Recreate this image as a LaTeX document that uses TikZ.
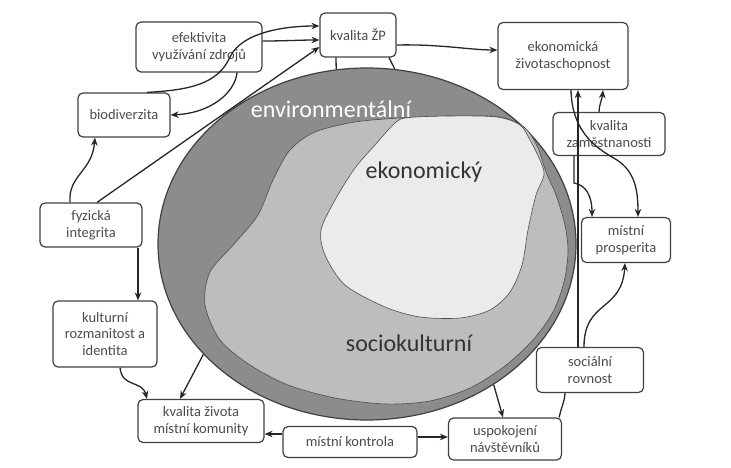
\documentclass[tikz,border=0pt]{standalone}
\usepackage{fontspec}
\setmainfont{Carlito}
\usetikzlibrary{arrows.meta,shapes.geometric}
\definecolor{tmava}{gray}{0.55}
\definecolor{stredni}{gray}{0.74}
\definecolor{svetla}{gray}{0.92}
\tikzset{
  box/.style={draw=black!75,line width=1.2pt,rounded corners=5pt,fill=white,align=center,
    text=black!70,font=\fontsize{14.5}{16.5}\selectfont,inner sep=1pt},
  sip/.style={->,draw=black!85,line width=1.3pt},
  cara/.style={draw=black!85,line width=1.3pt},
  nadpis/.style={font=\fontsize{24}{26}\selectfont},
}
\begin{document}
\begin{tikzpicture}[x=1pt,y=-1pt,>={Stealth[length=8pt,width=6.5pt]}]
\useasboundingbox (0,0) rectangle (731,468);

\node[ellipse,draw=black!75,line width=1.2pt,fill=tmava,inner sep=0pt,
  minimum width=418pt,minimum height=352pt] (env) at (367,244) {};
\filldraw[fill=stredni,draw=black!70,line width=0.6pt] plot[smooth cycle] coordinates {
  (400,118) (450,116) (500,117) (525,128) (538,148) (546,172) (556,195) (565,225)
  (568,252) (564,282) (553,312) (533,340) (505,366) (470,388) (430,401) (385,404)
  (335,398) (288,385) (250,365) (220,340) (205,305) (210,272) (235,243) (258,215)
  (273,180) (290,150) (315,132) (355,122)};
\filldraw[fill=svetla,draw=black!70,line width=0.6pt] plot[smooth cycle] coordinates {
  (405,118) (450,116) (497,117) (520,125) (530,140) (540,160) (544,175) (536,195)
  (528,230) (522,265) (510,292) (490,310) (460,318) (420,317) (385,307) (345,285)
  (325,255) (321,230) (335,200) (355,168) (375,145) (392,126)};
\node[nadpis,text=white] at (331,109) {environmentální};
\node[nadpis,text=black!80] at (424,172) {ekonomický};
\node[nadpis,text=black!80] at (409,343) {sociokulturní};

\node[box,minimum width=126pt,minimum height=50pt] (eff) at (199,47) {efektivita\\využívání zdrojů};
\node[box,minimum width=76pt,minimum height=44pt] (zp) at (358,35) {kvalita ŽP};
\node[box,minimum width=130pt,minimum height=67pt] (ekon) at (563,56) {ekonomická\\životaschopnost};
\node[box,minimum width=92pt,minimum height=44pt] (bio) at (124,115) {biodiverzita};
\node[box,minimum width=112pt,minimum height=43pt] (zam) at (609,134) {kvalita\\zaměstnanosti};
\node[box,minimum width=102pt,minimum height=44pt] (fyz) at (91,225) {fyzická\\integrita};
\node[box,minimum width=89pt,minimum height=45pt] (prosp) at (626,240) {místní\\prosperita};
\node[box,minimum width=104pt,minimum height=66pt] (kult) at (105,334) {kulturní\\rozmanitost a\\identita};
\node[box,minimum width=107pt,minimum height=45pt] (rovn) at (590,370) {sociální\\rovnost};
\node[box,minimum width=126pt,minimum height=43pt] (zivot) at (201,421) {kvalita života\\místní komunity};
\node[box,minimum width=134pt,minimum height=31pt] (kontr) at (350,442) {místní kontrola};
\node[box,minimum width=113pt,minimum height=42pt] (navst) at (505,439) {uspokojení\\návštěvníků};

\draw[sip] ([yshift=6pt]eff.east) .. controls (285,41) and (300,40) .. ([yshift=-5pt]zp.west);
\draw[sip] ([xshift=23pt]bio.north) .. controls (190,90) and (218,84) .. (230,57)
  .. controls (242,32) and (285,26) .. ([yshift=9pt]zp.west);
\draw[sip] ([xshift=38pt]eff.south) .. controls (235,92) and (212,113) .. (bio.east);
\draw[sip] ([xshift=6pt]fyz.north) -- ([yshift=-12pt]zp.west);
\draw[sip] ([xshift=-21pt]fyz.north) .. controls (68,175) and (92,172) .. ([xshift=-29pt]bio.south);
\draw[sip] ([xshift=47pt]fyz.south) -- ([xshift=33pt]kult.north);
\draw[sip] ([xshift=15pt]kult.south) .. controls (122,388) and (142,380) .. ([xshift=-54pt]zivot.north);
\draw[sip] (env.214) -- ([xshift=-21pt]zivot.north);
\draw[sip] ([yshift=8pt]kontr.west) -- ([yshift=-13pt]zivot.east);
\draw[sip] ([yshift=5pt]kontr.east) -- ([yshift=2pt]navst.west);
\draw[sip] (env.-48) -- ([xshift=-2pt]navst.north);
\draw[cara] ([xshift=-3pt]navst.north east) .. controls (562,405) and (565,400) .. ([xshift=-25pt]rovn.south);
\draw[sip] ([xshift=-6pt]rovn.north) .. controls (584,300) and (622,312) .. ([xshift=-1pt]prosp.south);
\draw[sip] ([xshift=-12pt]rovn.north) -- ([xshift=15pt]ekon.south);
\draw[sip] ([xshift=-35pt]zam.south) -- (574,183) .. controls (586,185) and (592,196) .. ([xshift=-34pt]prosp.north);
\draw[sip] ([xshift=-10pt]zam.north) .. controls (599,105) and (602,100) .. ([xshift=40pt]ekon.south);
\draw[sip] ([xshift=8pt]ekon.south) .. controls (572,135) and (600,150) .. (617,160)
  .. controls (635,172) and (638,190) .. ([xshift=12pt]prosp.north);
\draw[sip] ([yshift=-10pt]zp.east) .. controls (440,44) and (470,50) .. ([yshift=6pt]ekon.west);
\draw[cara] ([xshift=-22pt]zp.south) -- (env.100);
\draw[cara] ([xshift=31pt]zp.south) -- (env.81);
\end{tikzpicture}
\end{document}
